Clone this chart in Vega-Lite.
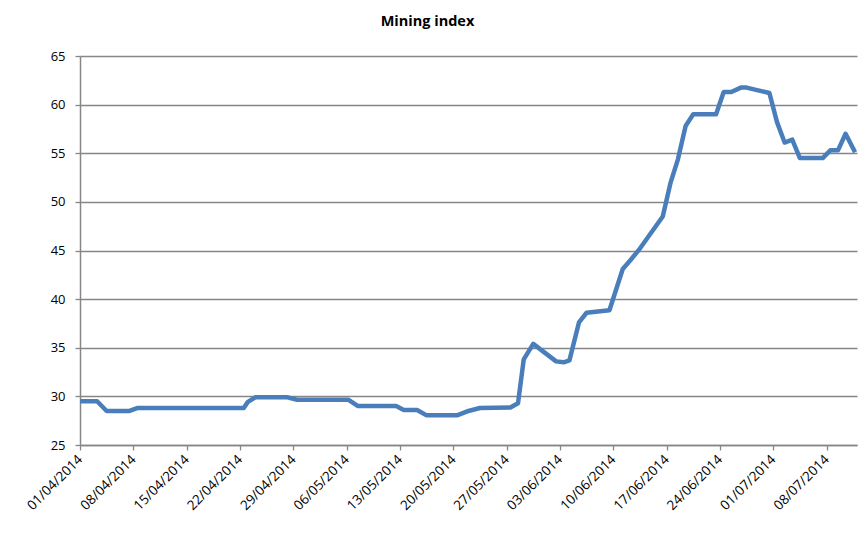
{
  "$schema": "https://vega.github.io/schema/vega-lite/v6.json",
  "width": 777,
  "height": 389,
  "autosize": {"type": "none"},
  "padding": {"left": 80, "top": 56, "right": 6, "bottom": 89},
  "background": "white",
  "title": {
    "text": "Mining index",
    "font": "Open Sans",
    "fontSize": 14.5,
    "fontWeight": "bold",
    "color": "#000000",
    "anchor": "middle",
    "dx": -41,
    "offset": 21
  },
  "data": {
    "values": [
      {"date": "2014-04-01T00:00:00Z", "value": 29.5},
      {"date": "2014-04-03T06:00:00Z", "value": 29.5},
      {"date": "2014-04-04T12:00:00Z", "value": 28.5},
      {"date": "2014-04-07T12:00:00Z", "value": 28.5},
      {"date": "2014-04-08T12:00:00Z", "value": 28.8},
      {"date": "2014-04-22T12:00:00Z", "value": 28.8},
      {"date": "2014-04-23T00:00:00Z", "value": 29.4},
      {"date": "2014-04-24T00:00:00Z", "value": 29.9},
      {"date": "2014-04-28T06:00:00Z", "value": 29.9},
      {"date": "2014-04-29T12:00:00Z", "value": 29.65},
      {"date": "2014-05-06T06:00:00Z", "value": 29.65},
      {"date": "2014-05-07T12:00:00Z", "value": 29.0},
      {"date": "2014-05-12T12:00:00Z", "value": 29.0},
      {"date": "2014-05-13T12:00:00Z", "value": 28.6},
      {"date": "2014-05-15T06:00:00Z", "value": 28.6},
      {"date": "2014-05-16T12:00:00Z", "value": 28.05},
      {"date": "2014-05-20T12:00:00Z", "value": 28.05},
      {"date": "2014-05-22T00:00:00Z", "value": 28.5},
      {"date": "2014-05-23T12:00:00Z", "value": 28.8},
      {"date": "2014-05-27T12:00:00Z", "value": 28.85},
      {"date": "2014-05-28T12:00:00Z", "value": 29.3},
      {"date": "2014-05-29T06:00:00Z", "value": 33.8},
      {"date": "2014-05-30T12:00:00Z", "value": 35.4},
      {"date": "2014-06-02T12:00:00Z", "value": 33.6},
      {"date": "2014-06-03T12:00:00Z", "value": 33.5},
      {"date": "2014-06-04T06:00:00Z", "value": 33.7},
      {"date": "2014-06-05T12:00:00Z", "value": 37.6},
      {"date": "2014-06-06T12:00:00Z", "value": 38.6},
      {"date": "2014-06-09T12:00:00Z", "value": 38.85},
      {"date": "2014-06-11T06:00:00Z", "value": 43.1},
      {"date": "2014-06-12T06:00:00Z", "value": 44.0},
      {"date": "2014-06-13T12:00:00Z", "value": 45.2},
      {"date": "2014-06-16T12:00:00Z", "value": 48.5},
      {"date": "2014-06-17T12:00:00Z", "value": 51.9},
      {"date": "2014-06-18T12:00:00Z", "value": 54.4},
      {"date": "2014-06-19T12:00:00Z", "value": 57.8},
      {"date": "2014-06-20T12:00:00Z", "value": 59.0},
      {"date": "2014-06-23T12:00:00Z", "value": 59.0},
      {"date": "2014-06-24T12:00:00Z", "value": 61.3},
      {"date": "2014-06-25T12:00:00Z", "value": 61.3},
      {"date": "2014-06-26T18:00:00Z", "value": 61.75},
      {"date": "2014-06-27T12:00:00Z", "value": 61.75},
      {"date": "2014-06-30T12:00:00Z", "value": 61.2},
      {"date": "2014-07-01T12:00:00Z", "value": 58.2},
      {"date": "2014-07-02T12:00:00Z", "value": 56.1},
      {"date": "2014-07-03T12:00:00Z", "value": 56.4},
      {"date": "2014-07-04T12:00:00Z", "value": 54.5},
      {"date": "2014-07-07T12:00:00Z", "value": 54.5},
      {"date": "2014-07-08T12:00:00Z", "value": 55.3},
      {"date": "2014-07-09T12:00:00Z", "value": 55.3},
      {"date": "2014-07-10T12:00:00Z", "value": 57.0},
      {"date": "2014-07-11T18:00:00Z", "value": 55.1}
    ]
  },
  "mark": {
    "type": "line",
    "color": "#4A7EBB",
    "strokeWidth": 4.5,
    "strokeJoin": "round",
    "strokeCap": "butt",
    "clip": false
  },
  "encoding": {
    "x": {
      "field": "date",
      "type": "temporal",
      "scale": {
        "type": "utc",
        "domain": [
          {"year": 2014, "month": 4, "date": 1, "utc": true},
          {"year": 2014, "month": 7, "date": 12, "utc": true}
        ],
        "nice": false
      },
      "axis": {
        "title": null,
        "format": "%d/%m/%Y",
        "values": [
          {"year": 2014, "month": 4, "date": 1, "utc": true},
          {"year": 2014, "month": 4, "date": 8, "utc": true},
          {"year": 2014, "month": 4, "date": 15, "utc": true},
          {"year": 2014, "month": 4, "date": 22, "utc": true},
          {"year": 2014, "month": 4, "date": 29, "utc": true},
          {"year": 2014, "month": 5, "date": 6, "utc": true},
          {"year": 2014, "month": 5, "date": 13, "utc": true},
          {"year": 2014, "month": 5, "date": 20, "utc": true},
          {"year": 2014, "month": 5, "date": 27, "utc": true},
          {"year": 2014, "month": 6, "date": 3, "utc": true},
          {"year": 2014, "month": 6, "date": 10, "utc": true},
          {"year": 2014, "month": 6, "date": 17, "utc": true},
          {"year": 2014, "month": 6, "date": 24, "utc": true},
          {"year": 2014, "month": 7, "date": 1, "utc": true},
          {"year": 2014, "month": 7, "date": 8, "utc": true}
        ],
        "labelAngle": -45,
        "labelAlign": "right",
        "labelBaseline": "middle",
        "labelPadding": 7,
        "labelFont": "Open Sans",
        "labelFontSize": 13.5,
        "labelColor": "#000000",
        "labelOverlap": false,
        "labelFlush": false,
        "tickSize": 5,
        "tickColor": "#868686",
        "tickWidth": 1.3,
        "domainColor": "#868686",
        "domainWidth": 1.5,
        "grid": false
      }
    },
    "y": {
      "field": "value",
      "type": "quantitative",
      "scale": {"domain": [25, 65], "nice": false, "zero": false},
      "axis": {
        "title": null,
        "values": [25, 30, 35, 40, 45, 50, 55, 60, 65],
        "labelFont": "Open Sans",
        "labelFontSize": 13,
        "labelColor": "#000000",
        "labelPadding": 10,
        "tickSize": 5,
        "tickColor": "#868686",
        "tickWidth": 1.3,
        "domainColor": "#868686",
        "domainWidth": 1.5,
        "grid": true,
        "gridColor": "#868686",
        "gridWidth": 1.3
      }
    }
  },
  "config": {
    "view": {"stroke": null}
  }
}
